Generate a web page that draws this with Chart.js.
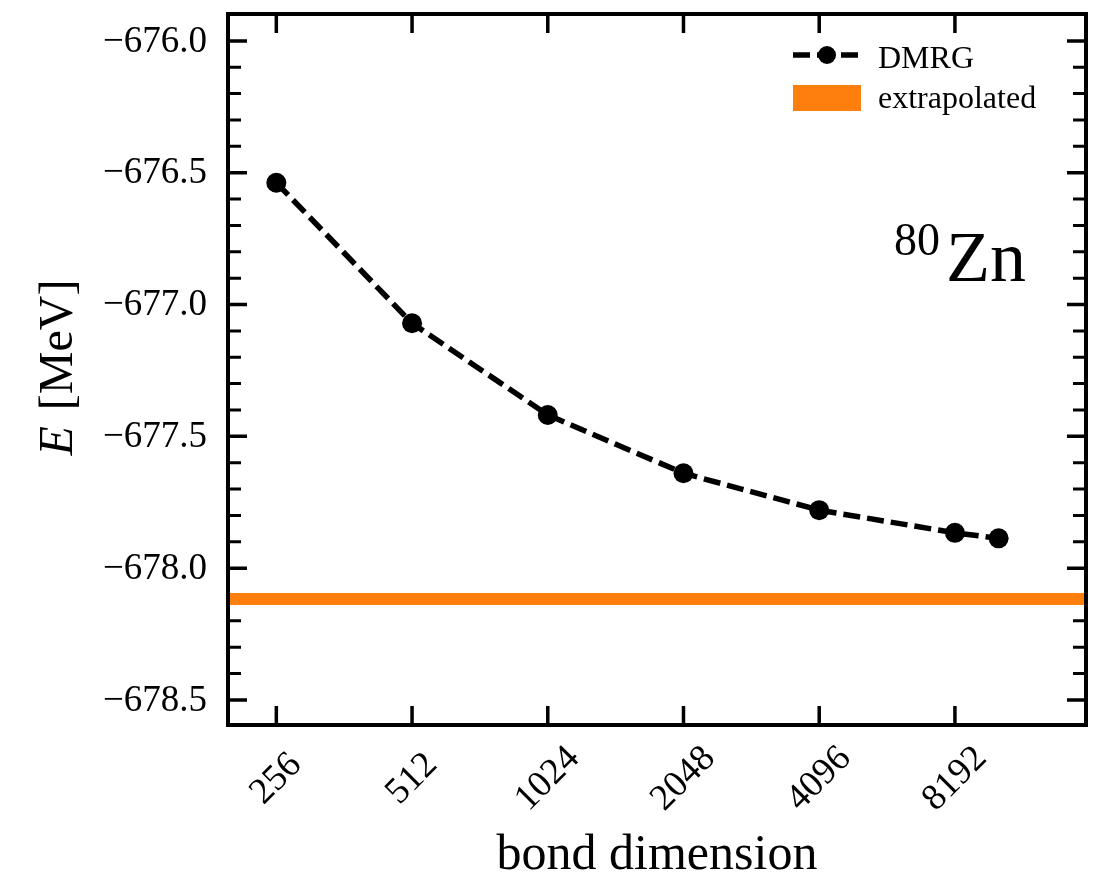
<!DOCTYPE html>
<html>
<head>
<meta charset="utf-8">
<title>DMRG energy vs bond dimension</title>
<script src="https://cdn.jsdelivr.net/npm/chart.js@4.4.1/dist/chart.umd.min.js"></script>
<style>
  html, body { margin: 0; padding: 0; background: #fff; }
  canvas { display: block; }
</style>
</head>
<body>
<canvas id="energyChart" width="1096" height="876"></canvas>
<script>
// bond dimensions and DMRG ground state energies (MeV)
const bondDims = [256, 512, 1024, 2048, 4096, 8192, 10240];
const dmrgEnergies = [-676.538, -677.071, -677.419, -677.640, -677.780, -677.866, -677.887];
const extrapolatedEnergy = -678.117;

// axis limits and ticks
const xLimits = [200, 16000];
const yLimits = [-678.595, -675.898];
const xTicks = [256, 512, 1024, 2048, 4096, 8192];
const yTicks = [-678.5, -678.0, -677.5, -677.0, -676.5, -676.0];
const yMinorTicks = [-678.4, -678.3, -678.2, -678.1, -677.9, -677.8, -677.7, -677.6,
  -677.4, -677.3, -677.2, -677.1, -676.9, -676.8, -676.7, -676.6,
  -676.4, -676.3, -676.2, -676.1];

const SERIF = '"Liberation Serif", "Times New Roman", serif';
const ORANGE = "#ff7f0e";

function fmtTick(v) {
  return "\u2212" + Math.abs(v).toFixed(1);
}

// inward ticks on all four sides
const tickMarks = {
  id: "tickMarks",
  beforeDatasetsDraw(chart) {
    const { ctx, chartArea: a, scales } = chart;
    ctx.save();
    ctx.strokeStyle = "#000";
    ctx.lineCap = "butt";

    ctx.lineWidth = 3.5;
    xTicks.forEach(v => {
      const x = scales.x.getPixelForValue(v);
      ctx.beginPath();
      ctx.moveTo(x, a.bottom); ctx.lineTo(x, a.bottom - 19);
      ctx.moveTo(x, a.top); ctx.lineTo(x, a.top + 19);
      ctx.stroke();
    });
    yTicks.forEach(v => {
      const y = scales.y.getPixelForValue(v);
      ctx.beginPath();
      ctx.moveTo(a.left, y); ctx.lineTo(a.left + 19, y);
      ctx.moveTo(a.right, y); ctx.lineTo(a.right - 19, y);
      ctx.stroke();
    });
    ctx.lineWidth = 3;
    yMinorTicks.forEach(v => {
      const y = scales.y.getPixelForValue(v);
      ctx.beginPath();
      ctx.moveTo(a.left, y); ctx.lineTo(a.left + 13, y);
      ctx.moveTo(a.right, y); ctx.lineTo(a.right - 13, y);
      ctx.stroke();
    });
    ctx.restore();
  }
};

// frame, tick labels, axis titles, legend and nucleus label
const decorations = {
  id: "decorations",
  afterDatasetsDraw(chart) {
    const { ctx, chartArea: a, scales } = chart;
    ctx.save();

    ctx.strokeStyle = "#000";
    ctx.lineWidth = 4;
    ctx.strokeRect(a.left, a.top, a.right - a.left, a.bottom - a.top);

    ctx.fillStyle = "#000";
    ctx.font = "37px " + SERIF;

    // y tick labels
    ctx.textAlign = "right";
    ctx.textBaseline = "middle";
    yTicks.forEach(v => {
      ctx.fillText(fmtTick(v), 207, scales.y.getPixelForValue(v) + 1);
    });

    // rotated x tick labels
    ctx.textAlign = "center";
    xTicks.forEach(v => {
      const x = scales.x.getPixelForValue(v);
      ctx.save();
      ctx.translate(x, 779);
      ctx.rotate(-Math.PI / 4);
      ctx.fillText(String(v), 0, 0);
      ctx.restore();
    });

    // x title
    ctx.textBaseline = "alphabetic";
    ctx.font = "50px " + SERIF;
    ctx.fillText("bond dimension", (a.left + a.right) / 2, 869);

    // y title: italic E followed by unit
    ctx.save();
    ctx.translate(72, (a.top + a.bottom) / 2);
    ctx.rotate(-Math.PI / 2);
    ctx.textAlign = "left";
    ctx.font = "italic 48px " + SERIF;
    const wE = ctx.measureText("E").width;
    ctx.font = "48px " + SERIF;
    const unit = " [MeV]";
    const wU = ctx.measureText(unit).width;
    const x0 = -(wE + wU) / 2;
    ctx.font = "italic 48px " + SERIF;
    ctx.fillText("E", x0, 0);
    ctx.font = "48px " + SERIF;
    ctx.fillText(unit, x0 + wE + 4, 0);
    ctx.restore();

    // legend
    ctx.textAlign = "left";
    ctx.font = "32px " + SERIF;
    ctx.lineWidth = 5.5;
    ctx.setLineDash([17, 7]);
    ctx.beginPath();
    ctx.moveTo(793, 55); ctx.lineTo(861, 55);
    ctx.stroke();
    ctx.setLineDash([]);
    ctx.beginPath();
    ctx.arc(827, 55, 9, 0, Math.PI * 2);
    ctx.fill();
    ctx.fillText("DMRG", 878, 68);

    ctx.fillStyle = ORANGE;
    ctx.fillRect(793, 85, 68, 26);
    ctx.fillStyle = "#000";
    ctx.fillText("extrapolated", 878, 108);

    // nucleus label
    ctx.font = "46px " + SERIF;
    ctx.fillText("80", 894, 255);
    ctx.font = "72px " + SERIF;
    ctx.fillText("Zn", 946, 281);

    ctx.restore();
  }
};

const chart = new Chart(document.getElementById("energyChart"), {
  type: "line",
  data: {
    datasets: [
      {
        label: "DMRG",
        data: bondDims.map((d, i) => ({ x: d, y: dmrgEnergies[i] })),
        borderColor: "#000",
        borderWidth: 5.5,
        borderDash: [17, 7],
        pointRadius: 10,
        pointBackgroundColor: "#000",
        pointBorderWidth: 0,
        tension: 0
      },
      {
        label: "extrapolated",
        data: xLimits.map(x => ({ x: x, y: extrapolatedEnergy })),
        borderColor: ORANGE,
        borderWidth: 12,
        borderCapStyle: "butt",
        pointRadius: 0,
        clip: 0
      }
    ]
  },
  options: {
    responsive: false,
    animation: false,
    layout: { padding: { left: 228, top: 14, right: 9, bottom: 151 } },
    scales: {
      x: { type: "logarithmic", min: xLimits[0], max: xLimits[1], display: false },
      y: { type: "linear", min: yLimits[0], max: yLimits[1], display: false }
    },
    plugins: {
      legend: { display: false },
      tooltip: { enabled: false }
    }
  },
  plugins: [tickMarks, decorations]
});
</script>
</body>
</html>
